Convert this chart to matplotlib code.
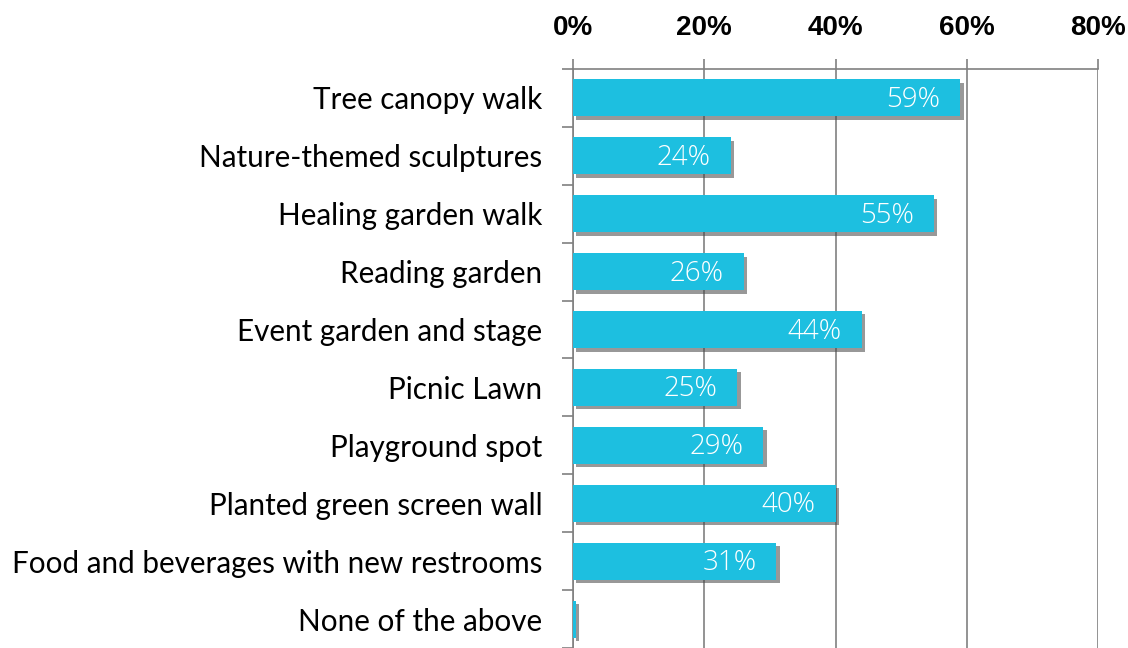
import matplotlib.pyplot as plt
import matplotlib.patheffects as pe

categories = ['Tree canopy walk', 'Nature-themed sculptures', 'Healing garden walk',
              'Reading garden', 'Event garden and stage', 'Picnic Lawn',
              'Playground spot', 'Planted green screen wall',
              'Food and beverages with new restrooms', 'None of the above']
values = [59, 24, 55, 26, 44, 25, 29, 40, 31, 0.4]
labels = ['59%', '24%', '55%', '26%', '44%', '25%', '29%', '40%', '31%', '']
xticks = [0, 20, 40, 60, 80]

fig = plt.figure(figsize=(11.28, 6.48), dpi=100)
ax = fig.add_axes([573 / 1128, 0, 525 / 1128, 1 - 69 / 648])

pos = list(range(len(categories)))
bars = ax.barh(pos, values, height=0.64, color='#1DBFE0', zorder=3)
for b in bars:
    b.set_path_effects([pe.SimplePatchShadow(offset=(2.5, -2.5), shadow_rgbFace='#444444', alpha=0.55),
                        pe.Normal()])

for i, (v, t) in enumerate(zip(values, labels)):
    ax.annotate(t, (v, i), xytext=(-20, -2), textcoords='offset pixels',
                ha='right', va='center', color='white', fontsize=20,
                family=['Open Sans', 'DejaVu Sans'], fontweight='light', zorder=4)

ax.set_xlim(0, 80)
ax.set_ylim(len(categories) - 0.5, -0.5)
ax.set_xticks(xticks)
ax.set_xticklabels([f'{x}%' for x in xticks])
ax.xaxis.tick_top()
ax.tick_params(axis='x', length=7, color='#808080', width=1.2, pad=13, labelsize=20)
for lab in ax.get_xticklabels():
    lab.set_fontweight('bold')
    lab.set_family(['Liberation Sans', 'DejaVu Sans'])

ax.set_yticks(pos)
ax.set_yticklabels(categories, fontsize=21.3, family=['Lato', 'DejaVu Sans'])
ax.set_yticks([p + 0.5 for p in [-1] + pos], minor=True)
ax.tick_params(axis='y', which='major', length=0, pad=22)
ax.tick_params(axis='y', which='minor', length=8, color='#808080', width=1.2)

ax.grid(axis='x', color='#808080', linewidth=1.2, zorder=0)
for s in ['right', 'bottom']:
    ax.spines[s].set_visible(False)
for s in ['top', 'left']:
    ax.spines[s].set_color('#808080')
    ax.spines[s].set_linewidth(1.2)

fig.savefig('out.png', dpi=100)
